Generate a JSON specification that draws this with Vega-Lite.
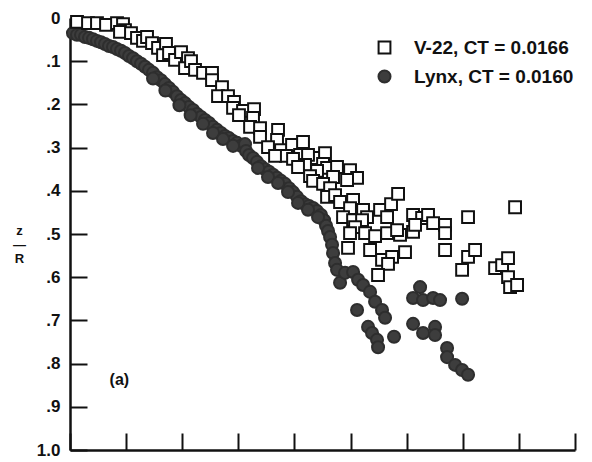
{
  "$schema": "https://vega.github.io/schema/vega-lite/v6.json",
  "width": 505,
  "height": 432,
  "autosize": {"type": "none"},
  "padding": {"left": 70, "top": 18, "right": 17, "bottom": 12},
  "background": "white",
  "config": {
    "view": {"stroke": null},
    "font": "Liberation Sans",
    "axis": {"grid": false, "domainColor": "#111111", "domainWidth": 2.5, "tickColor": "#111111", "tickWidth": 2, "tickSize": -17}
  },
  "layer": [
    {
      "data": {
        "values": [
          {"series": "Lynx, CT = 0.0160", "x": 0.053, "y": 0.035},
          {"series": "Lynx, CT = 0.0160", "x": 0.125, "y": 0.039},
          {"series": "Lynx, CT = 0.0160", "x": 0.196, "y": 0.039},
          {"series": "Lynx, CT = 0.0160", "x": 0.267, "y": 0.044},
          {"series": "Lynx, CT = 0.0160", "x": 0.339, "y": 0.046},
          {"series": "Lynx, CT = 0.0160", "x": 0.410, "y": 0.049},
          {"series": "Lynx, CT = 0.0160", "x": 0.481, "y": 0.053},
          {"series": "Lynx, CT = 0.0160", "x": 0.553, "y": 0.056},
          {"series": "Lynx, CT = 0.0160", "x": 0.624, "y": 0.060},
          {"series": "Lynx, CT = 0.0160", "x": 0.695, "y": 0.065},
          {"series": "Lynx, CT = 0.0160", "x": 0.766, "y": 0.067},
          {"series": "Lynx, CT = 0.0160", "x": 0.838, "y": 0.072},
          {"series": "Lynx, CT = 0.0160", "x": 0.909, "y": 0.076},
          {"series": "Lynx, CT = 0.0160", "x": 0.980, "y": 0.081},
          {"series": "Lynx, CT = 0.0160", "x": 1.052, "y": 0.088},
          {"series": "Lynx, CT = 0.0160", "x": 1.123, "y": 0.093},
          {"series": "Lynx, CT = 0.0160", "x": 1.194, "y": 0.100},
          {"series": "Lynx, CT = 0.0160", "x": 1.266, "y": 0.106},
          {"series": "Lynx, CT = 0.0160", "x": 1.337, "y": 0.113},
          {"series": "Lynx, CT = 0.0160", "x": 1.408, "y": 0.120},
          {"series": "Lynx, CT = 0.0160", "x": 1.480, "y": 0.127},
          {"series": "Lynx, CT = 0.0160", "x": 1.551, "y": 0.137},
          {"series": "Lynx, CT = 0.0160", "x": 1.622, "y": 0.144},
          {"series": "Lynx, CT = 0.0160", "x": 1.693, "y": 0.153},
          {"series": "Lynx, CT = 0.0160", "x": 1.765, "y": 0.162},
          {"series": "Lynx, CT = 0.0160", "x": 1.836, "y": 0.171},
          {"series": "Lynx, CT = 0.0160", "x": 1.907, "y": 0.181},
          {"series": "Lynx, CT = 0.0160", "x": 1.979, "y": 0.190},
          {"series": "Lynx, CT = 0.0160", "x": 2.050, "y": 0.197},
          {"series": "Lynx, CT = 0.0160", "x": 2.121, "y": 0.206},
          {"series": "Lynx, CT = 0.0160", "x": 2.193, "y": 0.213},
          {"series": "Lynx, CT = 0.0160", "x": 2.264, "y": 0.222},
          {"series": "Lynx, CT = 0.0160", "x": 2.335, "y": 0.229},
          {"series": "Lynx, CT = 0.0160", "x": 2.406, "y": 0.236},
          {"series": "Lynx, CT = 0.0160", "x": 2.478, "y": 0.243},
          {"series": "Lynx, CT = 0.0160", "x": 2.549, "y": 0.252},
          {"series": "Lynx, CT = 0.0160", "x": 2.620, "y": 0.259},
          {"series": "Lynx, CT = 0.0160", "x": 2.692, "y": 0.266},
          {"series": "Lynx, CT = 0.0160", "x": 2.763, "y": 0.273},
          {"series": "Lynx, CT = 0.0160", "x": 2.834, "y": 0.278},
          {"series": "Lynx, CT = 0.0160", "x": 2.906, "y": 0.285},
          {"series": "Lynx, CT = 0.0160", "x": 2.977, "y": 0.289},
          {"series": "Lynx, CT = 0.0160", "x": 3.048, "y": 0.296},
          {"series": "Lynx, CT = 0.0160", "x": 3.119, "y": 0.292},
          {"series": "Lynx, CT = 0.0160", "x": 3.137, "y": 0.308},
          {"series": "Lynx, CT = 0.0160", "x": 3.191, "y": 0.317},
          {"series": "Lynx, CT = 0.0160", "x": 3.262, "y": 0.324},
          {"series": "Lynx, CT = 0.0160", "x": 3.333, "y": 0.333},
          {"series": "Lynx, CT = 0.0160", "x": 3.405, "y": 0.343},
          {"series": "Lynx, CT = 0.0160", "x": 3.476, "y": 0.350},
          {"series": "Lynx, CT = 0.0160", "x": 3.547, "y": 0.356},
          {"series": "Lynx, CT = 0.0160", "x": 3.619, "y": 0.363},
          {"series": "Lynx, CT = 0.0160", "x": 3.690, "y": 0.370},
          {"series": "Lynx, CT = 0.0160", "x": 3.761, "y": 0.377},
          {"series": "Lynx, CT = 0.0160", "x": 3.832, "y": 0.384},
          {"series": "Lynx, CT = 0.0160", "x": 3.904, "y": 0.394},
          {"series": "Lynx, CT = 0.0160", "x": 3.975, "y": 0.403},
          {"series": "Lynx, CT = 0.0160", "x": 4.046, "y": 0.414},
          {"series": "Lynx, CT = 0.0160", "x": 4.118, "y": 0.424},
          {"series": "Lynx, CT = 0.0160", "x": 4.189, "y": 0.431},
          {"series": "Lynx, CT = 0.0160", "x": 4.260, "y": 0.435},
          {"series": "Lynx, CT = 0.0160", "x": 4.332, "y": 0.440},
          {"series": "Lynx, CT = 0.0160", "x": 4.403, "y": 0.447},
          {"series": "Lynx, CT = 0.0160", "x": 4.474, "y": 0.456},
          {"series": "Lynx, CT = 0.0160", "x": 4.528, "y": 0.468},
          {"series": "Lynx, CT = 0.0160", "x": 4.563, "y": 0.481},
          {"series": "Lynx, CT = 0.0160", "x": 4.599, "y": 0.493},
          {"series": "Lynx, CT = 0.0160", "x": 4.635, "y": 0.507},
          {"series": "Lynx, CT = 0.0160", "x": 4.670, "y": 0.525},
          {"series": "Lynx, CT = 0.0160", "x": 4.688, "y": 0.544},
          {"series": "Lynx, CT = 0.0160", "x": 1.480, "y": 0.140},
          {"series": "Lynx, CT = 0.0160", "x": 1.700, "y": 0.168},
          {"series": "Lynx, CT = 0.0160", "x": 1.950, "y": 0.202},
          {"series": "Lynx, CT = 0.0160", "x": 2.150, "y": 0.225},
          {"series": "Lynx, CT = 0.0160", "x": 2.371, "y": 0.245},
          {"series": "Lynx, CT = 0.0160", "x": 2.549, "y": 0.266},
          {"series": "Lynx, CT = 0.0160", "x": 2.727, "y": 0.280},
          {"series": "Lynx, CT = 0.0160", "x": 2.906, "y": 0.296},
          {"series": "Lynx, CT = 0.0160", "x": 3.351, "y": 0.347},
          {"series": "Lynx, CT = 0.0160", "x": 3.529, "y": 0.368},
          {"series": "Lynx, CT = 0.0160", "x": 3.708, "y": 0.382},
          {"series": "Lynx, CT = 0.0160", "x": 3.886, "y": 0.403},
          {"series": "Lynx, CT = 0.0160", "x": 4.064, "y": 0.428},
          {"series": "Lynx, CT = 0.0160", "x": 4.242, "y": 0.444},
          {"series": "Lynx, CT = 0.0160", "x": 4.421, "y": 0.461},
          {"series": "Lynx, CT = 0.0160", "x": 4.724, "y": 0.567},
          {"series": "Lynx, CT = 0.0160", "x": 4.759, "y": 0.583},
          {"series": "Lynx, CT = 0.0160", "x": 4.813, "y": 0.613},
          {"series": "Lynx, CT = 0.0160", "x": 4.902, "y": 0.590},
          {"series": "Lynx, CT = 0.0160", "x": 5.045, "y": 0.588},
          {"series": "Lynx, CT = 0.0160", "x": 5.134, "y": 0.606},
          {"series": "Lynx, CT = 0.0160", "x": 5.223, "y": 0.618},
          {"series": "Lynx, CT = 0.0160", "x": 5.348, "y": 0.634},
          {"series": "Lynx, CT = 0.0160", "x": 5.437, "y": 0.657},
          {"series": "Lynx, CT = 0.0160", "x": 5.561, "y": 0.676},
          {"series": "Lynx, CT = 0.0160", "x": 5.615, "y": 0.694},
          {"series": "Lynx, CT = 0.0160", "x": 5.116, "y": 0.676},
          {"series": "Lynx, CT = 0.0160", "x": 5.312, "y": 0.715},
          {"series": "Lynx, CT = 0.0160", "x": 5.383, "y": 0.729},
          {"series": "Lynx, CT = 0.0160", "x": 5.472, "y": 0.745},
          {"series": "Lynx, CT = 0.0160", "x": 5.490, "y": 0.762},
          {"series": "Lynx, CT = 0.0160", "x": 5.775, "y": 0.738},
          {"series": "Lynx, CT = 0.0160", "x": 6.239, "y": 0.623},
          {"series": "Lynx, CT = 0.0160", "x": 6.114, "y": 0.648},
          {"series": "Lynx, CT = 0.0160", "x": 6.292, "y": 0.653},
          {"series": "Lynx, CT = 0.0160", "x": 6.471, "y": 0.648},
          {"series": "Lynx, CT = 0.0160", "x": 6.595, "y": 0.653},
          {"series": "Lynx, CT = 0.0160", "x": 6.988, "y": 0.650},
          {"series": "Lynx, CT = 0.0160", "x": 6.114, "y": 0.708},
          {"series": "Lynx, CT = 0.0160", "x": 6.292, "y": 0.729},
          {"series": "Lynx, CT = 0.0160", "x": 6.506, "y": 0.715},
          {"series": "Lynx, CT = 0.0160", "x": 6.506, "y": 0.734},
          {"series": "Lynx, CT = 0.0160", "x": 6.720, "y": 0.764},
          {"series": "Lynx, CT = 0.0160", "x": 6.720, "y": 0.785},
          {"series": "Lynx, CT = 0.0160", "x": 6.863, "y": 0.803},
          {"series": "Lynx, CT = 0.0160", "x": 6.988, "y": 0.815},
          {"series": "Lynx, CT = 0.0160", "x": 7.094, "y": 0.826},
          {"series": "V-22, CT = 0.0166", "x": 0.125, "y": 0.009},
          {"series": "V-22, CT = 0.0166", "x": 0.321, "y": 0.012},
          {"series": "V-22, CT = 0.0166", "x": 0.481, "y": 0.012},
          {"series": "V-22, CT = 0.0166", "x": 0.642, "y": 0.016},
          {"series": "V-22, CT = 0.0166", "x": 0.838, "y": 0.012},
          {"series": "V-22, CT = 0.0166", "x": 0.945, "y": 0.014},
          {"series": "V-22, CT = 0.0166", "x": 0.980, "y": 0.028},
          {"series": "V-22, CT = 0.0166", "x": 0.891, "y": 0.032},
          {"series": "V-22, CT = 0.0166", "x": 1.087, "y": 0.035},
          {"series": "V-22, CT = 0.0166", "x": 1.194, "y": 0.046},
          {"series": "V-22, CT = 0.0166", "x": 1.301, "y": 0.053},
          {"series": "V-22, CT = 0.0166", "x": 1.373, "y": 0.044},
          {"series": "V-22, CT = 0.0166", "x": 1.462, "y": 0.058},
          {"series": "V-22, CT = 0.0166", "x": 1.569, "y": 0.069},
          {"series": "V-22, CT = 0.0166", "x": 1.711, "y": 0.060},
          {"series": "V-22, CT = 0.0166", "x": 1.658, "y": 0.086},
          {"series": "V-22, CT = 0.0166", "x": 1.765, "y": 0.081},
          {"series": "V-22, CT = 0.0166", "x": 1.872, "y": 0.097},
          {"series": "V-22, CT = 0.0166", "x": 1.979, "y": 0.079},
          {"series": "V-22, CT = 0.0166", "x": 2.103, "y": 0.093},
          {"series": "V-22, CT = 0.0166", "x": 2.050, "y": 0.116},
          {"series": "V-22, CT = 0.0166", "x": 2.157, "y": 0.100},
          {"series": "V-22, CT = 0.0166", "x": 2.228, "y": 0.120},
          {"series": "V-22, CT = 0.0166", "x": 2.371, "y": 0.127},
          {"series": "V-22, CT = 0.0166", "x": 2.531, "y": 0.127},
          {"series": "V-22, CT = 0.0166", "x": 2.531, "y": 0.144},
          {"series": "V-22, CT = 0.0166", "x": 2.709, "y": 0.160},
          {"series": "V-22, CT = 0.0166", "x": 2.638, "y": 0.181},
          {"series": "V-22, CT = 0.0166", "x": 2.816, "y": 0.181},
          {"series": "V-22, CT = 0.0166", "x": 2.923, "y": 0.194},
          {"series": "V-22, CT = 0.0166", "x": 2.906, "y": 0.208},
          {"series": "V-22, CT = 0.0166", "x": 3.084, "y": 0.215},
          {"series": "V-22, CT = 0.0166", "x": 3.280, "y": 0.211},
          {"series": "V-22, CT = 0.0166", "x": 3.012, "y": 0.225},
          {"series": "V-22, CT = 0.0166", "x": 3.262, "y": 0.231},
          {"series": "V-22, CT = 0.0166", "x": 3.209, "y": 0.252},
          {"series": "V-22, CT = 0.0166", "x": 3.387, "y": 0.255},
          {"series": "V-22, CT = 0.0166", "x": 3.387, "y": 0.275},
          {"series": "V-22, CT = 0.0166", "x": 3.708, "y": 0.259},
          {"series": "V-22, CT = 0.0166", "x": 3.690, "y": 0.282},
          {"series": "V-22, CT = 0.0166", "x": 3.529, "y": 0.299},
          {"series": "V-22, CT = 0.0166", "x": 3.761, "y": 0.306},
          {"series": "V-22, CT = 0.0166", "x": 3.957, "y": 0.294},
          {"series": "V-22, CT = 0.0166", "x": 4.153, "y": 0.287},
          {"series": "V-22, CT = 0.0166", "x": 4.100, "y": 0.317},
          {"series": "V-22, CT = 0.0166", "x": 3.850, "y": 0.319},
          {"series": "V-22, CT = 0.0166", "x": 3.654, "y": 0.319},
          {"series": "V-22, CT = 0.0166", "x": 3.975, "y": 0.326},
          {"series": "V-22, CT = 0.0166", "x": 4.367, "y": 0.324},
          {"series": "V-22, CT = 0.0166", "x": 4.545, "y": 0.313},
          {"series": "V-22, CT = 0.0166", "x": 4.242, "y": 0.317},
          {"series": "V-22, CT = 0.0166", "x": 4.189, "y": 0.340},
          {"series": "V-22, CT = 0.0166", "x": 4.064, "y": 0.345},
          {"series": "V-22, CT = 0.0166", "x": 4.510, "y": 0.338},
          {"series": "V-22, CT = 0.0166", "x": 4.581, "y": 0.347},
          {"series": "V-22, CT = 0.0166", "x": 4.759, "y": 0.345},
          {"series": "V-22, CT = 0.0166", "x": 4.403, "y": 0.354},
          {"series": "V-22, CT = 0.0166", "x": 4.278, "y": 0.366},
          {"series": "V-22, CT = 0.0166", "x": 4.688, "y": 0.368},
          {"series": "V-22, CT = 0.0166", "x": 4.991, "y": 0.352},
          {"series": "V-22, CT = 0.0166", "x": 5.116, "y": 0.370},
          {"series": "V-22, CT = 0.0166", "x": 4.938, "y": 0.375},
          {"series": "V-22, CT = 0.0166", "x": 4.332, "y": 0.377},
          {"series": "V-22, CT = 0.0166", "x": 4.510, "y": 0.384},
          {"series": "V-22, CT = 0.0166", "x": 4.635, "y": 0.394},
          {"series": "V-22, CT = 0.0166", "x": 4.581, "y": 0.414},
          {"series": "V-22, CT = 0.0166", "x": 4.724, "y": 0.410},
          {"series": "V-22, CT = 0.0166", "x": 4.813, "y": 0.426},
          {"series": "V-22, CT = 0.0166", "x": 5.045, "y": 0.421},
          {"series": "V-22, CT = 0.0166", "x": 4.991, "y": 0.440},
          {"series": "V-22, CT = 0.0166", "x": 4.866, "y": 0.461},
          {"series": "V-22, CT = 0.0166", "x": 5.045, "y": 0.468},
          {"series": "V-22, CT = 0.0166", "x": 5.223, "y": 0.444},
          {"series": "V-22, CT = 0.0166", "x": 5.294, "y": 0.461},
          {"series": "V-22, CT = 0.0166", "x": 5.526, "y": 0.444},
          {"series": "V-22, CT = 0.0166", "x": 5.722, "y": 0.431},
          {"series": "V-22, CT = 0.0166", "x": 5.847, "y": 0.407},
          {"series": "V-22, CT = 0.0166", "x": 5.651, "y": 0.461},
          {"series": "V-22, CT = 0.0166", "x": 5.205, "y": 0.468},
          {"series": "V-22, CT = 0.0166", "x": 5.080, "y": 0.484},
          {"series": "V-22, CT = 0.0166", "x": 4.991, "y": 0.498},
          {"series": "V-22, CT = 0.0166", "x": 5.259, "y": 0.498},
          {"series": "V-22, CT = 0.0166", "x": 5.437, "y": 0.505},
          {"series": "V-22, CT = 0.0166", "x": 5.651, "y": 0.498},
          {"series": "V-22, CT = 0.0166", "x": 5.882, "y": 0.502},
          {"series": "V-22, CT = 0.0166", "x": 6.114, "y": 0.495},
          {"series": "V-22, CT = 0.0166", "x": 4.955, "y": 0.532},
          {"series": "V-22, CT = 0.0166", "x": 5.348, "y": 0.537},
          {"series": "V-22, CT = 0.0166", "x": 5.561, "y": 0.560},
          {"series": "V-22, CT = 0.0166", "x": 5.740, "y": 0.553},
          {"series": "V-22, CT = 0.0166", "x": 5.971, "y": 0.542},
          {"series": "V-22, CT = 0.0166", "x": 5.668, "y": 0.569},
          {"series": "V-22, CT = 0.0166", "x": 5.490, "y": 0.595},
          {"series": "V-22, CT = 0.0166", "x": 6.114, "y": 0.456},
          {"series": "V-22, CT = 0.0166", "x": 6.275, "y": 0.463},
          {"series": "V-22, CT = 0.0166", "x": 6.381, "y": 0.456},
          {"series": "V-22, CT = 0.0166", "x": 6.471, "y": 0.475},
          {"series": "V-22, CT = 0.0166", "x": 6.684, "y": 0.479},
          {"series": "V-22, CT = 0.0166", "x": 6.684, "y": 0.498},
          {"series": "V-22, CT = 0.0166", "x": 6.150, "y": 0.479},
          {"series": "V-22, CT = 0.0166", "x": 5.829, "y": 0.491},
          {"series": "V-22, CT = 0.0166", "x": 6.684, "y": 0.537},
          {"series": "V-22, CT = 0.0166", "x": 7.094, "y": 0.461},
          {"series": "V-22, CT = 0.0166", "x": 7.932, "y": 0.438},
          {"series": "V-22, CT = 0.0166", "x": 6.988, "y": 0.583},
          {"series": "V-22, CT = 0.0166", "x": 7.094, "y": 0.553},
          {"series": "V-22, CT = 0.0166", "x": 7.219, "y": 0.537},
          {"series": "V-22, CT = 0.0166", "x": 7.576, "y": 0.579},
          {"series": "V-22, CT = 0.0166", "x": 7.701, "y": 0.572},
          {"series": "V-22, CT = 0.0166", "x": 7.807, "y": 0.556},
          {"series": "V-22, CT = 0.0166", "x": 7.807, "y": 0.600},
          {"series": "V-22, CT = 0.0166", "x": 7.843, "y": 0.623},
          {"series": "V-22, CT = 0.0166", "x": 7.968, "y": 0.618}
        ]
      },
      "mark": {"type": "point", "filled": true, "opacity": 1, "strokeWidth": 2},
      "encoding": {
        "x": {
          "field": "x", "type": "quantitative",
          "scale": {"domain": [0, 9], "nice": false, "zero": false},
          "axis": {"title": null, "labels": false, "values": [0, 1, 2, 3, 4, 5, 6, 7, 8, 9]}
        },
        "y": {
          "field": "y", "type": "quantitative",
          "scale": {"domain": [0, 1], "reverse": true, "nice": false},
          "axis": {
            "values": [0, 0.1, 0.2, 0.3, 0.4, 0.5, 0.6, 0.7, 0.8, 0.9, 1],
            "labelExpr": "datum.value == 0 ? '0' : datum.value >= 0.99 ? '1.0' : replace(format(datum.value, '.1f'), '0.', '.')",
            "labelFont": "Liberation Sans", "labelFontWeight": "bold", "labelFontSize": 17, "labelColor": "#111111",
            "labelPadding": 27, "labelBaseline": "middle",
            "tickOpacity": {"condition": {"test": "datum.value == 0", "value": 0}, "value": 1},
            "title": ["z", "—", "R"],
            "titleAngle": 0, "titleAlign": "center", "titleBaseline": "middle",
            "titleX": -51, "titleY": 212,
            "titleFont": "Liberation Sans", "titleFontWeight": "bold", "titleFontSize": 13, "titleLineHeight": 14, "titleColor": "#111111"
          }
        },
        "shape": {
          "field": "series", "type": "nominal",
          "scale": {"domain": ["V-22, CT = 0.0166", "Lynx, CT = 0.0160"], "range": ["square", "circle"]},
          "legend": {
            "title": null, "orient": "none", "legendX": 305, "legendY": 20,
            "padding": 0, "rowPadding": 8, "labelOffset": 20,
            "labelFont": "Liberation Sans", "labelFontWeight": "bold", "labelFontSize": 19, "labelColor": "#111111",
            "symbolStrokeWidth": 2
          }
        },
        "fill": {
          "field": "series", "type": "nominal",
          "scale": {"domain": ["V-22, CT = 0.0166", "Lynx, CT = 0.0160"], "range": ["#ffffff", "#3d3d3d"]}
        },
        "stroke": {
          "field": "series", "type": "nominal",
          "scale": {"domain": ["V-22, CT = 0.0166", "Lynx, CT = 0.0160"], "range": ["#111111", "#2e2e2e"]}
        },
        "size": {
          "field": "series", "type": "nominal",
          "scale": {"domain": ["V-22, CT = 0.0166", "Lynx, CT = 0.0160"], "range": [140, 145]}
        }
      }
    },
    {
      "data": {"values": [{"x": 0.88, "y": 0.838, "label": "(a)"}]},
      "mark": {"type": "text", "font": "Liberation Sans", "fontWeight": "bold", "fontSize": 16, "color": "#111111", "align": "center", "baseline": "middle"},
      "encoding": {
        "x": {"field": "x", "type": "quantitative"},
        "y": {"field": "y", "type": "quantitative"},
        "text": {"field": "label"}
      }
    }
  ]
}
